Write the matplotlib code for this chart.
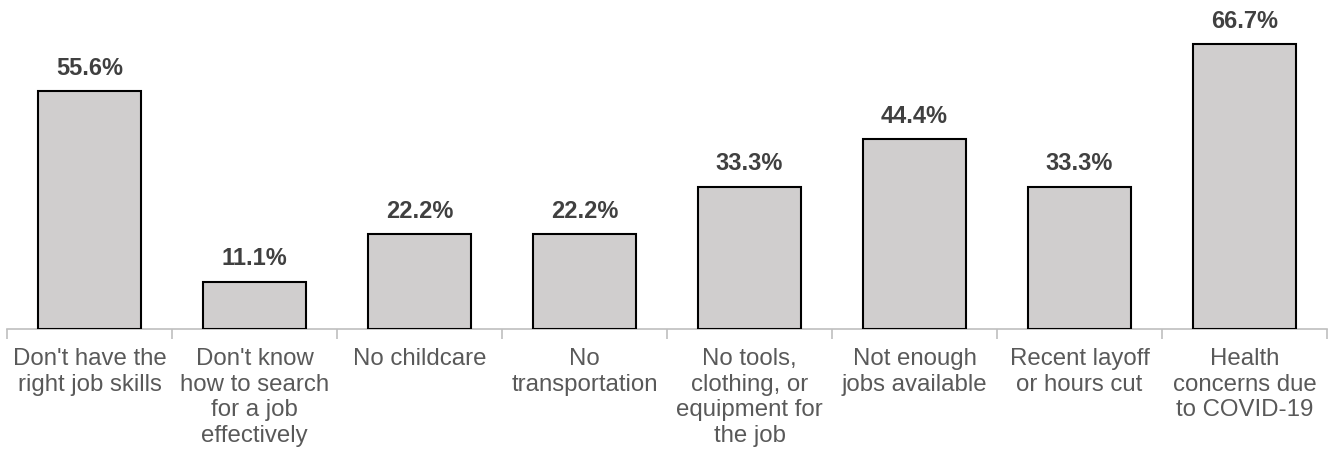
import matplotlib
matplotlib.use("Agg")
import matplotlib.pyplot as plt

categories = [
    "Don't have the\nright job skills",
    "Don't know\nhow to search\nfor a job\neffectively",
    "No childcare",
    "No\ntransportation",
    "No tools,\nclothing, or\nequipment for\nthe job",
    "Not enough\njobs available",
    "Recent layoff\nor hours cut",
    "Health\nconcerns due\nto COVID-19",
]
values = [55.6, 11.1, 22.2, 22.2, 33.3, 44.4, 33.3, 66.7]
value_labels = ["55.6%", "11.1%", "22.2%", "22.2%", "33.3%", "44.4%", "33.3%", "66.7%"]

plt.rcParams['font.family'] = ['Liberation Sans', 'DejaVu Sans']

fig = plt.figure(figsize=(13.33, 4.54), dpi=100)
ax = fig.add_axes([7/1333, 125/454, 1320/1333, 329/454])

x = list(range(len(categories)))
bars = ax.bar(x, values, width=0.625, color="#D0CECE", edgecolor="black", linewidth=1.5, zorder=3)

for xi, v, lab in zip(x, values, value_labels):
    ax.annotate(lab, (xi, v), xytext=(0, 8), textcoords="offset points",
                ha="center", va="bottom", fontsize=17, fontweight="bold", color="#404040")

ax.set_xlim(-0.5, len(categories) - 0.5)
ax.set_ylim(0, 76.9)
ax.set_yticks([])
for s in ["top", "right", "left"]:
    ax.spines[s].set_visible(False)
ax.spines["bottom"].set_color("#BFBFBF")
ax.spines["bottom"].set_linewidth(1.2)

ax.set_xticks([i + 0.5 for i in range(-1, len(categories))], minor=False)
ax.set_xticklabels([])
ax.tick_params(axis="x", which="major", length=7, color="#BFBFBF", width=1.2)
ax.set_xticks(x, minor=True)
ax.set_xticklabels(categories, minor=True, fontsize=17.3, color="#595959", linespacing=1.2)
ax.tick_params(axis="x", which="minor", length=0, pad=14)

fig.savefig("out.png", dpi=100)
